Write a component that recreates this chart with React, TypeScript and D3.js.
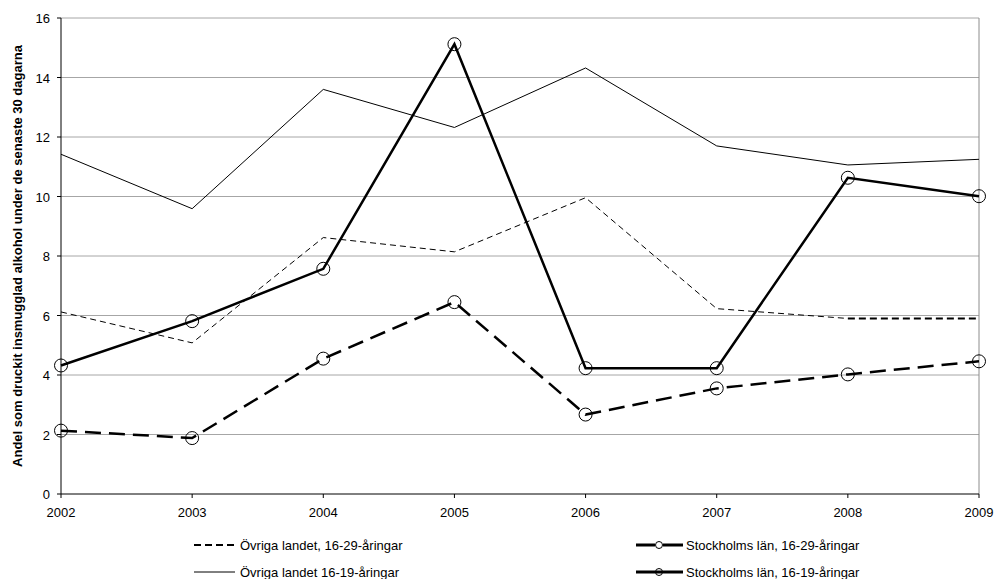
import React from "react";
import * as d3 from "d3";

const years = [2002, 2003, 2004, 2005, 2006, 2007, 2008, 2009];
const yTicks = [0, 2, 4, 6, 8, 10, 12, 14, 16];

const ovrigaUnga = [6.12, 5.08, 8.62, 8.14, 9.96, 6.23, 5.9, 5.9]; // 16-29
const ovrigaTonar = [11.42, 9.59, 13.6, 12.32, 14.32, 11.7, 11.06, 11.25]; // 16-19
const sthlmUnga = [2.13, 1.88, 4.55, 6.45, 2.67, 3.55, 4.02, 4.46]; // 16-29
const sthlmTonar = [4.32, 5.81, 7.57, 15.12, 4.23, 4.23, 10.63, 10.01]; // 16-19

const W = 996;
const H = 579;
const margin = { left: 61, right: 17, top: 18, bottom: 85 };
const font = "'Liberation Sans', Arial, sans-serif";

export default function App() {
  const x = d3.scalePoint<number>().domain(years).range([margin.left, W - margin.right]);
  const y = d3.scaleLinear().domain([0, 16]).range([H - margin.bottom, margin.top]);

  const line = d3
    .line<number>()
    .x((_, i) => x(years[i])!)
    .y((d) => y(d));

  // last segment of övriga 16-29 is drawn with heavier dashes
  const ovrigaHead = ovrigaUnga.slice(0, 7);
  const ovrigaTail = ovrigaUnga.slice(6);
  const tailLine = d3
    .line<number>()
    .x((_, i) => x(years[i + 6])!)
    .y((d) => y(d));

  const x0 = margin.left;
  const x1 = W - margin.right;
  const yb = y(0);

  return (
    <svg width={W} height={H} style={{ position: "absolute", left: 0, top: 0, background: "#fff" }}>
      {/* gridlines */}
      {yTicks.filter((t) => t > 0).map((t) => (
        <line key={t} x1={x0} x2={x1} y1={y(t)} y2={y(t)} stroke="#a6a6a6" strokeWidth={1} />
      ))}
      <line x1={x1} x2={x1} y1={y(16)} y2={yb} stroke="#8c8c8c" strokeWidth={1} />

      {/* axes */}
      <line x1={x0} x2={x0} y1={y(16)} y2={yb} stroke="#000" strokeWidth={1} />
      <line x1={x0} x2={x1} y1={yb} y2={yb} stroke="#000" strokeWidth={1} />
      {yTicks.map((t) => (
        <g key={t}>
          <line x1={x0 - 4} x2={x0} y1={y(t)} y2={y(t)} stroke="#000" />
          <text x={x0 - 11} y={y(t) + 5} textAnchor="end" fontSize={13} fontFamily={font}>
            {t}
          </text>
        </g>
      ))}
      {years.map((yr) => (
        <g key={yr}>
          <line x1={x(yr)} x2={x(yr)} y1={yb} y2={yb + 4} stroke="#000" />
          <text x={x(yr)} y={yb + 23} textAnchor="middle" fontSize={13} fontFamily={font}>
            {yr}
          </text>
        </g>
      ))}
      <text
        transform={`translate(22,${(y(16) + yb) / 2}) rotate(-90)`}
        textAnchor="middle"
        fontSize={13}
        fontWeight="bold"
        fontFamily={font}
      >
        Andel som druckit insmugglad alkohol under de senaste 30 dagarna
      </text>

      {/* series */}
      <path d={line(ovrigaTonar)!} fill="none" stroke="#000" strokeWidth={1} />
      <path d={line(ovrigaHead)!} fill="none" stroke="#000" strokeWidth={1} strokeDasharray="6 4" />
      <path d={tailLine(ovrigaTail)!} fill="none" stroke="#000" strokeWidth={2} strokeDasharray="7 4" />
      <path d={line(sthlmUnga)!} fill="none" stroke="#000" strokeWidth={2.5} strokeDasharray="16 8" />
      <path d={line(sthlmTonar)!} fill="none" stroke="#000" strokeWidth={2.5} />
      {sthlmUnga.map((v, i) => (
        <circle key={"u" + i} cx={x(years[i])} cy={y(v)} r={6.5} fill="none" stroke="#000" strokeWidth={1} />
      ))}
      {sthlmTonar.map((v, i) => (
        <circle key={"t" + i} cx={x(years[i])} cy={y(v)} r={6.5} fill="none" stroke="#000" strokeWidth={1} />
      ))}

      {/* legend */}
      <g fontFamily={font} fontSize={13}>
        <line x1={194} x2={235} y1={545} y2={545} stroke="#000" strokeWidth={2} strokeDasharray="7 4" />
        <text x={240} y={550}>Övriga landet, 16-29-åringar</text>
        <line x1={194} x2={235} y1={572} y2={572} stroke="#000" strokeWidth={1} />
        <text x={240} y={577}>Övriga landet 16-19-åringar</text>

        <line x1={636} x2={655} y1={545} y2={545} stroke="#000" strokeWidth={3} />
        <line x1={663} x2={683} y1={545} y2={545} stroke="#000" strokeWidth={3} />
        <circle cx={659} cy={545} r={3.5} fill="#fff" stroke="#000" strokeWidth={1} />
        <text x={686} y={550}>Stockholms län, 16-29-åringar</text>
        <line x1={636} x2={683} y1={572} y2={572} stroke="#000" strokeWidth={3} />
        <circle cx={659} cy={572} r={3.5} fill="none" stroke="#000" strokeWidth={1} />
        <text x={686} y={577}>Stockholms län, 16-19-åringar</text>
      </g>
    </svg>
  );
}
